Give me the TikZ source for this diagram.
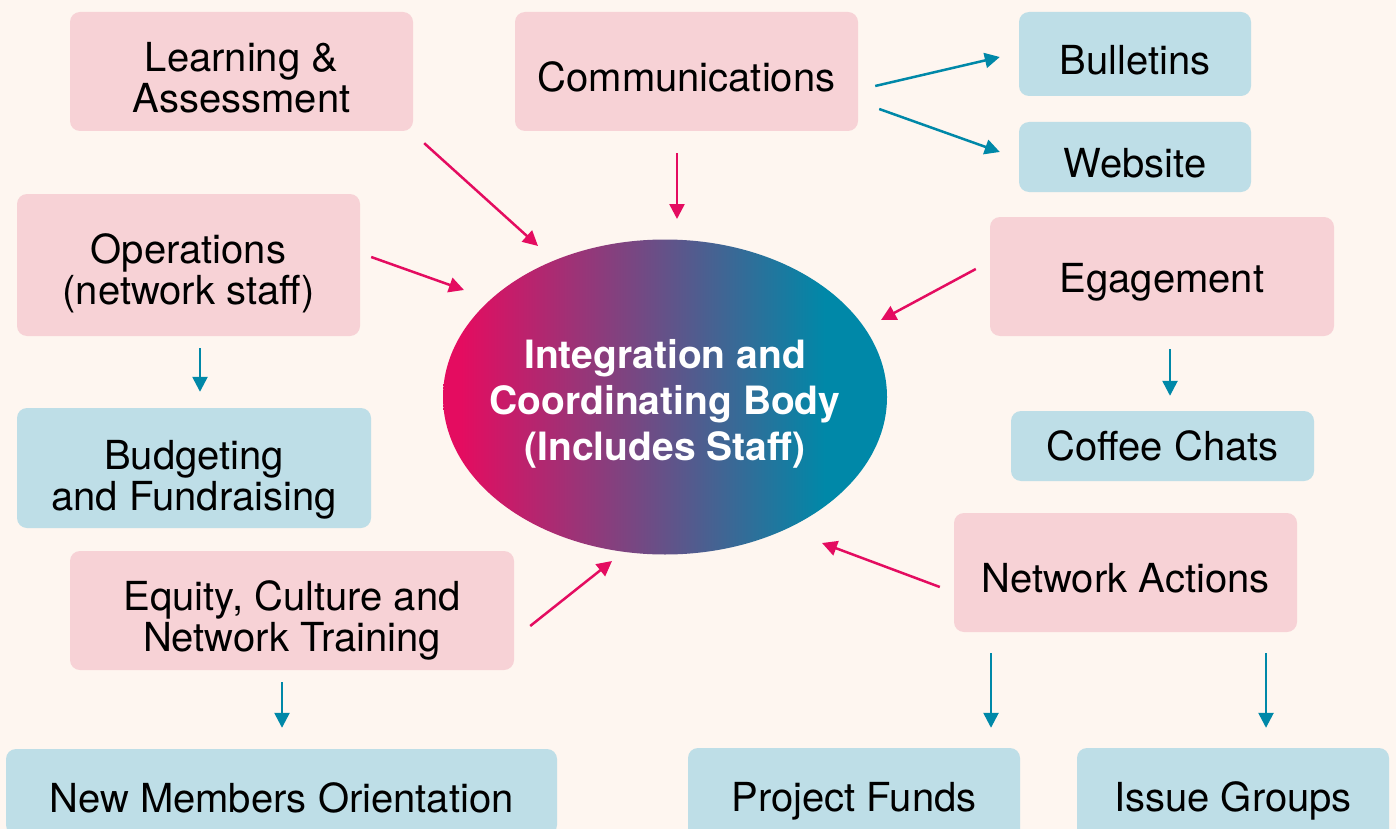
\documentclass[tikz,border=0pt]{standalone}
\usepackage{fontspec}
\setmainfont{TeX Gyre Heros}
\usepackage{xcolor}
\usepackage{tikz}
\usetikzlibrary{shapes.geometric,arrows.meta}
\definecolor{orgbg}{RGB}{254, 246, 240}
\definecolor{orgpink}{RGB}{247, 210, 214}
\definecolor{orgblue}{RGB}{190, 222, 231}
\definecolor{orgmagenta}{RGB}{228, 12, 96}
\definecolor{orgteal}{RGB}{0, 136, 168}
\pgfdeclarehorizontalshading{bodyshade}{100bp}{color(0bp)=(orgmagenta); color(27bp)=(orgmagenta); color(68bp)=(orgteal); color(100bp)=(orgteal)}
\newcommand{\droptext}[1]{\rule{0pt}{#1pt}}

\begin{document}
\begin{tikzpicture}[x=1pt, y=-1pt,
  box/.style={rectangle, rounded corners=10pt, inner sep=0pt, align=center,
    font=\fontsize{40}{41}\selectfont, execute at begin node={\rule{0pt}{41pt}}},
  pinkbox/.style={box, fill=orgpink},
  bluebox/.style={box, fill=orgblue},
  body/.style={ellipse, inner sep=0pt, minimum width=444pt, minimum height=315pt,
    shade, shading=bodyshade},
  bodytext/.style={align=center, text=white, font=\bfseries\fontsize{39}{46}\selectfont},
  pinkarrow/.style={draw=orgmagenta, line width=2.5pt, -{Triangle[length=15pt,width=15pt]}},
  tealarrow/.style={draw=orgteal, line width=2.5pt, -{Triangle[length=15pt,width=15pt]}}]
\useasboundingbox (0,0) rectangle (1396,829);
\fill[orgbg] (0,0) rectangle (1396,829);

\node[pinkbox, minimum width=343pt, minimum height=119pt] (learn) at (241.5,71.5) {\droptext{41}Learning \&\\Assessment};
\node[pinkbox, minimum width=343pt, minimum height=119pt] (comm) at (686.5,71.5) {Communications};
\node[bluebox, minimum width=232pt, minimum height=84pt] (bull) at (1135,54) {Bulletins};
\node[bluebox, minimum width=232pt, minimum height=70pt] (web) at (1135,157) {Website};
\node[pinkbox, minimum width=343pt, minimum height=142pt] (oper) at (188.5,265) {\droptext{47}Operations\\(network staff)};
\node[pinkbox, minimum width=344pt, minimum height=119pt] (egag) at (1162,276.5) {Egagement};
\node[bluebox, minimum width=354pt, minimum height=120pt] (budget) at (194,468) {\droptext{52}Budgeting\\and Fundraising};
\node[bluebox, minimum width=303pt, minimum height=70pt, text depth=12pt] (coffee) at (1162.5,446) {Coffee Chats};
\node[pinkbox, minimum width=444pt, minimum height=119pt] (equity) at (292,610.5) {\droptext{49}Equity, Culture and\\Network Training};
\node[pinkbox, minimum width=343pt, minimum height=119pt] (netact) at (1125.5,572.5) {Network Actions};
\node[bluebox, minimum width=551pt, minimum height=86pt] (newmem) at (281.5,792) {New Members Orientation};
\node[bluebox, minimum width=332pt, minimum height=94pt] (projfund) at (854,795) {Project Funds};
\node[bluebox, minimum width=312pt, minimum height=94pt] (issue) at (1233,795) {Issue Groups};

\node[body] (body) at (665,397) {};
\node[bodytext] (bodytxt) at (665,404) {Integration and\\Coordinating Body\\(Includes Staff)};

\draw[pinkarrow] ([shift={(11,12)}]learn.south east) -- ([shift={(-127,-151)}]body.center);
\draw[pinkarrow] ([shift={(-9.5,22)}]comm.south) -- ([shift={(12,-178)}]body.center);
\draw[pinkarrow] ([shift={(11,-8)}]oper.east) -- ([shift={(-201,-107)}]body.center);
\draw[pinkarrow] ([shift={(-14,-7.5)}]egag.west) -- ([shift={(216,-77)}]body.center);
\draw[pinkarrow] ([shift={(-14,14.5)}]netact.west) -- ([shift={(157,146)}]body.center);
\draw[pinkarrow] ([shift={(16,15.5)}]equity.east) -- ([shift={(-53,164)}]body.center);

\draw[tealarrow] ([shift={(17,14.5)}]comm.east) -- ([shift={(-19,3)}]bull.west);
\draw[tealarrow] ([shift={(21,37.5)}]comm.east) -- ([shift={(-19,-5)}]web.west);
\draw[tealarrow] ([shift={(11.5,12)}]oper.south) -- ([shift={(6,-16)}]budget.north);
\draw[tealarrow] ([shift={(8,13)}]egag.south) -- ([shift={(7.5,-15)}]coffee.north);
\draw[tealarrow] ([shift={(-10,12)}]equity.south) -- ([shift={(0.5,-21)}]newmem.north);
\draw[tealarrow] ([shift={(-134.5,21)}]netact.south) -- ([shift={(137,-20)}]projfund.north);
\draw[tealarrow] ([shift={(140.5,21)}]netact.south) -- ([shift={(33,-20)}]issue.north);
\end{tikzpicture}
\end{document}
